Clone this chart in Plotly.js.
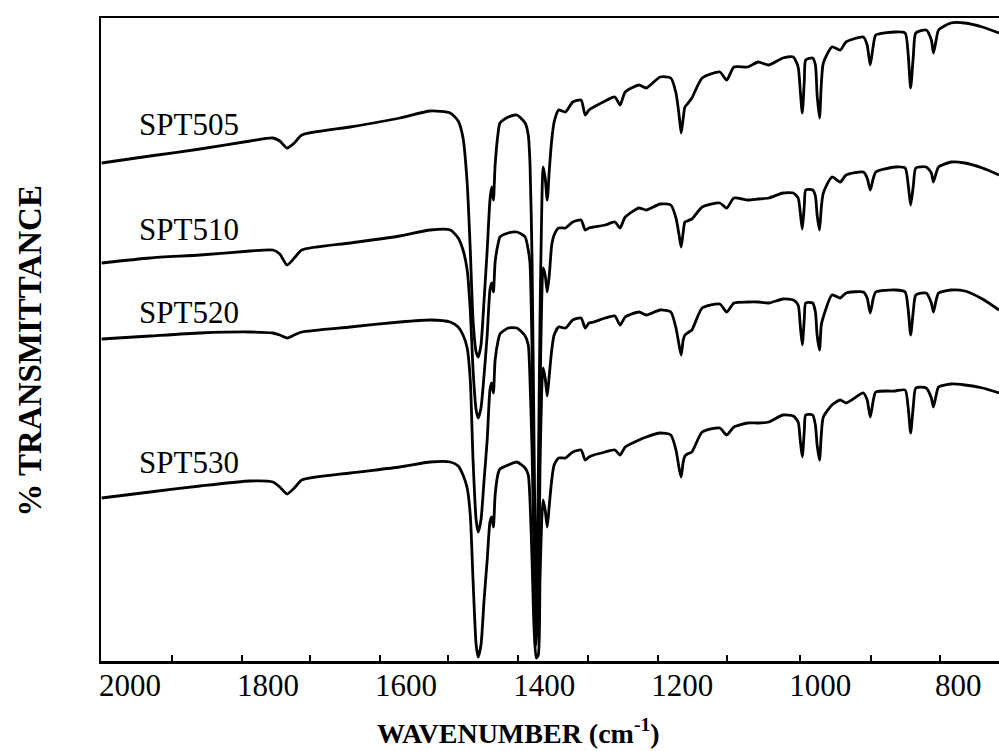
<!DOCTYPE html>
<html>
<head>
<meta charset="utf-8">
<script src="https://cdn.plot.ly/plotly-3.0.1.min.js"></script>
<style>html,body{margin:0;padding:0;background:#fff;overflow:hidden;}#chart{width:999px;height:751px;}</style>
</head>
<body>
<div id="chart"></div>
<script>
// Wavenumber grid (cm-1)
var wavenumber = [2041,1971,1898.5,1826,1793,1783,1772.5,1762,1751,1681,1609,1565,1536,1524.5,1517.5,1511.5,1507,1503,1498.5,1495.5,1491.5,1487,1482.5,1478.5,1476,1473.5,1471,1466.5,1464,1452,1439.5,1427.5,1423,1420.5,1417.5,1414.5,1411.5,1408.5,1406,1403.5,1401.5,1398.5,1395.5,1392.5,1389,1385.5,1379,1369,1358.5,1346.5,1340.5,1335,1328,1311.5,1297.5,1290,1282.5,1262.5,1252,1232,1216.5,1209,1204.5,1201.5,1198.5,1196,1192.5,1186,1171,1145.5,1135.5,1125,1105,1090,1074.5,1054,1039,1032,1029,1026,1023,1021,1011,1007,1004.5,1001,998.5,995.5,983,971,962.5,937.5,932,927.5,923,919.5,891.5,877,872.5,869,865,861.5,846.5,839,836,832,828.5,810.5,790.5,765,741];

// % transmittance (offset, arbitrary units) for each sample
var spt505 = [49.8,50.5,51.2,52.0,52.3,52.0,51.3,51.8,52.6,53.4,54.3,55.0,54.8,54.0,52.3,47.8,41.1,34.1,30.9,30.4,31.6,36.1,41.1,46.1,47.4,46.1,49.6,52.9,53.8,54.4,54.6,53.8,52.6,49.8,40.1,21.1,4.6,18.1,34.1,45.1,49.4,48.3,46.1,49.1,52.1,53.9,55.1,54.9,55.9,56.1,54.6,55.1,55.4,56.0,56.4,55.6,56.9,57.6,57.3,58.4,58.3,56.8,54.6,52.8,54.3,55.4,55.7,56.3,58.3,58.9,58.1,59.4,59.4,59.9,59.6,60.3,60.4,59.4,57.1,54.8,58.1,60.1,60.3,59.6,56.6,54.3,57.6,59.8,61.4,61.1,61.9,62.4,61.6,59.6,61.6,62.6,62.9,62.8,60.6,57.3,60.6,62.8,63.1,62.1,60.8,62.1,63.1,63.8,63.8,63.4,62.8];
var spt510 = [39.8,40.3,40.6,41.0,41.1,40.7,39.6,40.3,41.1,41.8,42.5,43.1,43.1,42.3,41.1,39.1,35.1,29.1,25.1,24.3,25.3,28.6,32.6,37.1,37.8,36.9,39.9,41.8,42.4,42.8,42.9,42.4,41.1,39.8,31.1,14.1,2.9,12.1,26.1,36.1,39.3,38.6,36.9,38.6,41.6,42.6,43.3,43.3,43.9,44.1,43.1,43.3,43.4,43.6,43.9,43.3,44.4,45.3,45.1,45.7,45.6,44.3,42.6,41.4,42.9,43.9,44.0,44.2,45.4,45.8,45.3,46.3,46.1,46.2,46.3,46.8,46.8,46.3,44.9,43.2,45.6,47.1,47.1,46.5,44.6,43.1,45.3,46.8,48.4,47.9,48.6,48.9,48.3,47.1,48.3,48.9,49.4,49.3,47.6,45.6,47.6,49.3,49.4,48.8,47.9,48.8,49.4,49.9,49.8,49.3,48.6];
var spt520 = [32.2,32.5,32.8,32.9,32.8,32.6,32.3,32.6,32.9,33.4,33.9,34.1,33.9,33.4,32.6,31.3,28.1,20.1,14.1,12.9,14.1,18.1,22.1,27.1,27.8,26.8,30.1,32.1,32.7,33.3,33.3,32.5,31.6,28.1,21.1,10.1,1.6,6.1,19.1,27.1,29.3,28.3,26.5,28.6,31.1,32.6,33.4,33.3,34.1,34.3,33.3,33.8,33.9,34.3,34.5,33.6,34.4,34.9,34.6,35.1,34.9,33.3,31.6,30.6,32.1,32.6,32.8,33.1,35.3,35.7,34.9,35.8,35.9,35.9,35.8,36.2,36.1,35.6,33.6,31.6,34.3,35.8,35.8,34.9,32.6,31.1,33.6,34.4,36.6,36.3,36.8,36.9,36.3,34.8,36.3,36.9,37.1,36.9,35.1,32.6,35.1,36.6,36.8,35.8,34.9,36.1,36.8,37.1,37.0,36.2,35.1];
var spt530 = [16.3,16.9,17.5,18.0,17.9,17.4,16.7,17.3,18.1,18.8,19.4,19.9,19.9,19.5,18.6,17.3,14.6,8.1,1.6,0.4,1.6,6.1,10.1,13.9,14.4,13.4,16.6,18.8,19.2,19.6,19.9,19.3,18.6,16.1,10.1,3.1,0.3,0.6,8.1,14.1,16.1,15.1,13.4,15.6,18.1,19.6,20.3,20.3,20.9,21.1,20.1,20.4,20.6,20.9,21.1,20.6,21.4,22.1,22.4,22.8,22.6,21.1,19.3,18.4,19.9,20.5,20.7,20.9,22.9,23.3,22.6,23.4,23.8,23.8,23.9,24.6,24.5,23.9,22.1,20.4,23.1,24.6,24.6,23.6,21.6,20.1,22.6,24.4,25.6,26.1,25.8,26.8,26.1,24.4,26.1,26.9,27.0,27.1,25.3,22.8,25.6,27.3,27.3,26.3,25.4,26.6,27.4,27.7,27.6,27.3,26.8];

var seriesNames = ["SPT505","SPT510","SPT520","SPT530"];
var seriesValues = [spt505, spt510, spt520, spt530];
var labelLevels = [53.7, 43.2, 34.9, 19.9];

var tickLabels = [2000,1800,1600,1400,1200,1000,800];
var minorTicks = [1939,1838,1739,1638,1539,1438,1336,1235,1135,1030,927,826];

var serif = 'Liberation Serif, Times New Roman, serif';

var traces = seriesNames.map(function(n, i){
  return {x: wavenumber, y: seriesValues[i], type:'scatter', mode:'lines', name:n,
          line:{color:'#000', width:2.8, shape:'spline', smoothing:0.6}, hoverinfo:'skip'};
});

var annotations = seriesNames.map(function(n, i){
  return {text:n, x:1990, y:labelLevels[i], xref:'x', yref:'y', xanchor:'left', yanchor:'middle',
          showarrow:false, font:{family:serif, size:31, color:'#000'}};
});
// axis titles
annotations.push({text:'<b>WAVENUMBER (cm<sup>-1</sup>)</b>', xref:'paper', yref:'paper',
  x:0.465, y:-0.11, xanchor:'center', yanchor:'middle', showarrow:false,
  font:{family:serif, size:28, color:'#000'}});
annotations.push({text:'<b>% TRANSMITTANCE</b>', xref:'paper', yref:'paper',
  x:-0.0795, y:0.482, xanchor:'center', yanchor:'middle', textangle:-90, showarrow:false,
  font:{family:serif, size:33, color:'#000'}});

var layout = {
  width:999, height:751,
  margin:{l:101, r:0, t:18, b:90, pad:0},
  paper_bgcolor:'#fff', plot_bgcolor:'#fff',
  showlegend:false,
  font:{family:serif, color:'#000'},
  xaxis:{
    range:[2042, 741], showgrid:false, zeroline:false,
    showline:true, linecolor:'#000', linewidth:2.5, mirror:true,
    tickmode:'array', tickvals:tickLabels, ticktext:tickLabels.map(String),
    ticks:'', ticklabelstandoff:-5,
    tickfont:{family:serif, size:31, color:'#000'},
    minor:{tickmode:'array', tickvals:minorTicks, ticks:'inside', ticklen:6, tickwidth:2, tickcolor:'#000', showgrid:false}
  },
  yaxis:{
    range:[0, 64.3], showgrid:false, zeroline:false,
    showline:true, linecolor:'#000', linewidth:2.5,
    ticks:'', showticklabels:false
  },
  annotations: annotations
};

Plotly.newPlot('chart', traces, layout, {staticPlot:true, displayModeBar:false});
</script>
</body>
</html>
